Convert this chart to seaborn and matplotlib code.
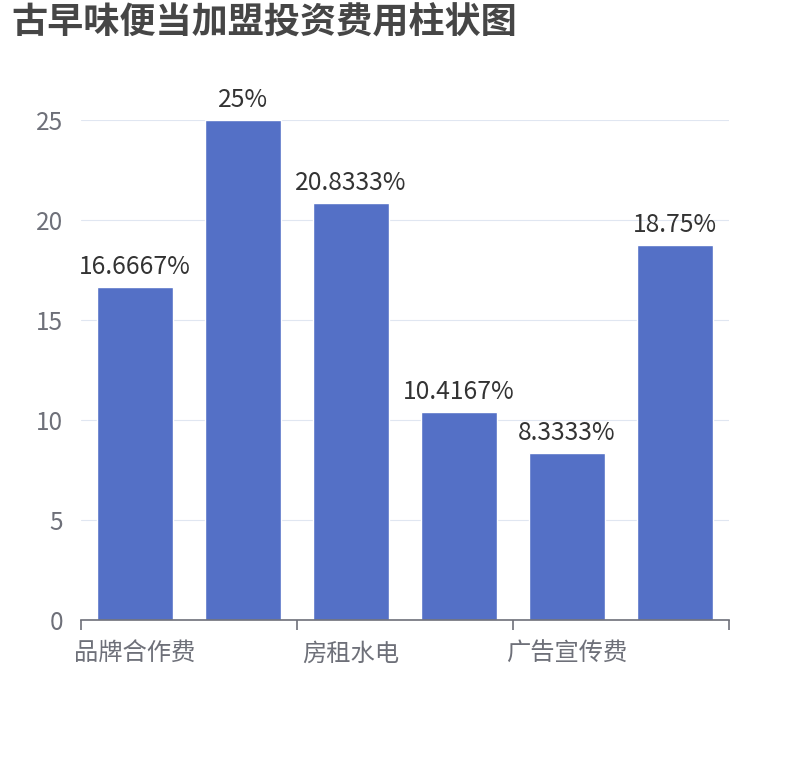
"""
Bar chart of franchise investment cost shares (reproduction).
"""

###
#Import libraries

import pandas as pd
import seaborn as sns
import matplotlib
matplotlib.use('Agg')
import matplotlib.pyplot as plt

###
#Data

CATEGORIES = ['品牌合作费', '装修费用', '房租水电', '设备采购', '广告宣传费', '人员工资']
SHARES = [16.6667, 25, 20.8333, 10.4167, 8.3333, 18.75]
LABELS = ['16.6667%', '25%', '20.8333%', '10.4167%', '8.3333%', '18.75%']
Y_TICKS = [0, 5, 10, 15, 20, 25]
TITLE = '古早味便当加盟投资费用柱状图'

BAR_COLOR = '#5470c6'
AXIS_COLOR = '#6e7079'
GRID_COLOR = '#e0e6f1'

sns.set_theme(style='white')
plt.rcParams['font.family'] = ['Noto Sans CJK SC', 'DejaVu Sans']

W, H, DPI = 810, 760, 100


def main():
    df = pd.DataFrame({'category': CATEGORIES, 'share': SHARES})
    fig = plt.figure(figsize=(W / DPI, H / DPI), dpi=DPI)
    #axes box in pixel coordinates (left 81, right 729, top 120, bottom 620)
    ax = fig.add_axes([81 / W, 1 - 620 / H, (729 - 81) / W, (620 - 120) / H])

    sns.barplot(data=df, x='category', y='share', color=BAR_COLOR,
                width=0.7, saturation=1, ax=ax, zorder=3)

    for i, lab in enumerate(LABELS):
        ax.annotate(lab, (i, SHARES[i]), xytext=(0, 5), textcoords='offset points',
                    ha='center', va='bottom', fontsize=17.8, color='#333333')

    ax.set_xlim(-0.5, len(CATEGORIES) - 0.5)
    ax.set_ylim(0, 25)
    ax.set_yticks(Y_TICKS)
    ax.set_yticklabels([str(t) for t in Y_TICKS], fontsize=17.5, color=AXIS_COLOR)
    ax.yaxis.grid(True, color=GRID_COLOR, linewidth=0.8, zorder=0)
    ax.tick_params(axis='y', length=0, pad=13)

    #boundary ticks every two categories, labels on every other category
    ax.set_xticks([-0.5, 1.5, 3.5, 5.5])
    ax.set_xticklabels([])
    ax.set_xticks(range(0, len(CATEGORIES), 2), minor=True)
    ax.set_xticklabels(CATEGORIES[::2], minor=True, fontsize=17.5, color=AXIS_COLOR)
    ax.tick_params(axis='x', which='major', bottom=True, length=7, width=1.2,
                   color=AXIS_COLOR, direction='out')
    ax.tick_params(axis='x', which='minor', bottom=True, length=0, pad=15)
    ax.set_xlabel('')
    ax.set_ylabel('')

    for side in ['top', 'right', 'left']:
        ax.spines[side].set_visible(False)
    ax.spines['bottom'].set_color(AXIS_COLOR)
    ax.spines['bottom'].set_linewidth(1.2)
    ax.spines['bottom'].set_zorder(4)

    fig.text(11 / W, 1 - 5 / H, TITLE, ha='left', va='top', fontsize=26,
             fontweight='bold', color='#464646')

    fig.savefig('out.png', dpi=DPI, facecolor='white')
    return 0


if __name__ == '__main__':
    main()
